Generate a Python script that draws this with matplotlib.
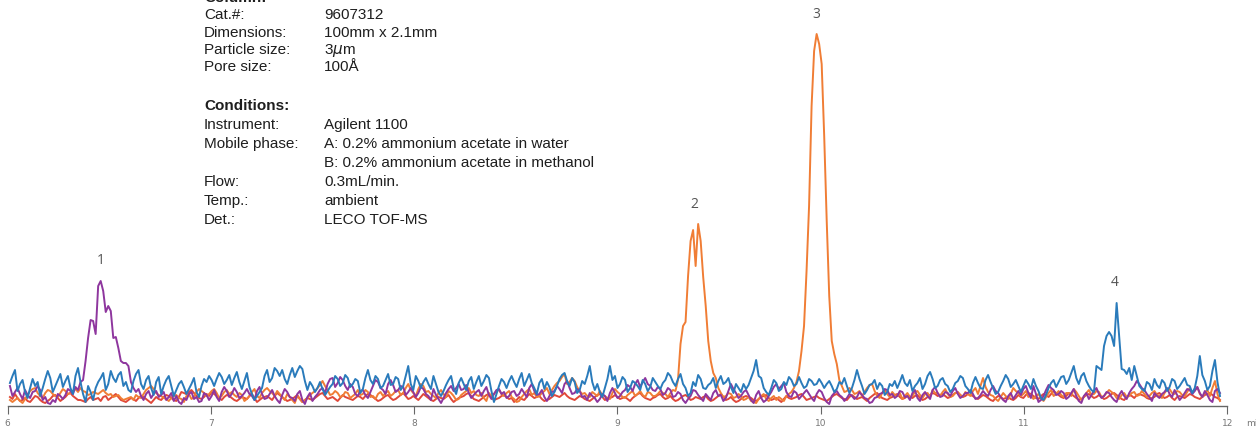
import numpy as np
import matplotlib
matplotlib.use("Agg")
import matplotlib.pyplot as plt

# detector traces, one sample every 0.0124 min from 6.012 min
t_start = 6.012
t_step = 0.0124

purple = [20, 10, 14, 18, 12, 7, 16, 11, 8, 14, 15, 20, 16, 6, 9, 3, 2, 6, 4, 12,
          10, 7, 11, 17, 15, 12, 19, 16, 24, 26, 45, 68, 86, 85, 72, 120, 125, 115, 94, 100,
          95, 68, 69, 58, 45, 43, 43, 40, 24, 18, 14, 17, 10, 6, 12, 15, 8, 12, 15, 9,
          11, 14, 6, 9, 13, 5, 10, 4, 2, 8, 6, 12, 14, 7, 9, 4, 5, 13, 11, 6,
          10, 16, 9, 5, 14, 19, 15, 9, 12, 18, 14, 8, 10, 13, 17, 12, 10, 6, 15, 19,
          12, 7, 8, 12, 16, 10, 6, 3, 11, 17, 14, 9, 8, 5, 12, 15, 6, 2, 9, 13,
          5, 9, 12, 16, 18, 13, 22, 27, 28, 19, 23, 29, 26, 20, 16, 22, 19, 12, 10, 15,
          16, 11, 8, 14, 20, 26, 24, 18, 16, 12, 22, 26, 21, 14, 16, 20, 19, 11, 14, 18,
          14, 9, 13, 19, 17, 12, 10, 6, 17, 11, 7, 3, 8, 13, 17, 20, 15, 18, 22, 16,
          17, 21, 13, 8, 11, 14, 16, 10, 15, 19, 11, 7, 12, 16, 17, 12, 14, 8, 10, 14,
          15, 10, 12, 17, 13, 9, 18, 22, 15, 11, 12, 16, 9, 5, 10, 14, 15, 20, 17, 13,
          22, 25, 18, 12, 13, 17, 15, 9, 10, 6, 13, 10, 8, 4, 7, 12, 10, 5, 13, 18,
          13, 8, 10, 14, 16, 21, 19, 15, 22, 26, 19, 24, 28, 22, 20, 16, 15, 19, 17, 11,
          13, 18, 16, 9, 10, 14, 12, 6, 3, 7, 10, 16, 15, 11, 8, 5, 12, 9, 6, 13,
          16, 10, 11, 5, 8, 15, 22, 17, 13, 8, 10, 14, 16, 11, 6, 3, 11, 15, 8, 4,
          6, 10, 14, 19, 22, 17, 20, 23, 14, 10, 9, 15, 13, 7, 10, 13, 16, 12, 8, 5,
          12, 16, 14, 8, 4, 2, 10, 13, 15, 11, 9, 5, 8, 12, 10, 7, 9, 14, 11, 8,
          7, 3, 4, 8, 9, 12, 13, 17, 16, 11, 12, 8, 10, 15, 14, 9, 10, 6, 13, 16,
          8, 5, 11, 14, 10, 7, 16, 19, 13, 9, 10, 14, 13, 10, 15, 18, 12, 8, 10, 13,
          13, 16, 12, 7, 8, 11, 15, 12, 10, 16, 20, 15, 13, 9, 6, 4, 10, 13, 7, 11,
          15, 11, 17, 20, 13, 8, 20, 12, 4, 6, 10, 16, 21, 18, 16, 11, 12, 15, 13, 7,
          9, 13, 17, 10, 5, 3, 10, 13, 7, 11, 15, 18, 12, 8, 10, 14, 13, 9, 6, 4,
          11, 15, 10, 7, 13, 17, 20, 25, 22, 18, 16, 12, 9, 5, 13, 10, 8, 12, 14, 18,
          12, 9, 16, 11, 6, 9, 13, 17, 16, 12, 15, 19, 13, 9, 15, 11, 6, 4, 15, 17,
          13]

orange = [6, 4, 6, 8, 5, 3, 7, 11, 15, 17, 18, 13, 10, 8, 13, 16, 15, 12, 10, 9,
          13, 17, 15, 12, 13, 15, 17, 14, 18, 15, 14, 11, 12, 14, 13, 12, 14, 16, 13, 11,
          12, 9, 10, 11, 8, 6, 7, 8, 9, 6, 11, 9, 8, 12, 16, 18, 20, 17, 13, 11,
          10, 8, 7, 5, 8, 10, 11, 8, 7, 4, 10, 12, 7, 9, 14, 17, 15, 13, 10, 12,
          15, 17, 13, 8, 10, 14, 16, 12, 14, 11, 9, 13, 11, 5, 7, 10, 14, 17, 10, 8,
          13, 16, 18, 15, 13, 10, 15, 12, 9, 6, 12, 9, 6, 3, 10, 7, 4, 6, 8, 11,
          13, 15, 18, 21, 25, 20, 16, 11, 12, 15, 13, 9, 10, 14, 13, 8, 10, 12, 16, 11,
          12, 16, 14, 9, 10, 7, 12, 14, 10, 13, 15, 10, 12, 15, 16, 11, 13, 18, 22, 16,
          13, 10, 17, 22, 20, 14, 15, 12, 10, 8, 13, 16, 12, 9, 15, 13, 10, 6, 7, 11,
          13, 15, 18, 13, 15, 11, 10, 13, 8, 5, 13, 10, 12, 15, 16, 12, 10, 13, 15, 9,
          7, 4, 5, 9, 12, 15, 17, 11, 13, 9, 10, 13, 15, 18, 12, 16, 20, 23, 25, 29,
          32, 22, 24, 28, 25, 19, 15, 12, 13, 10, 9, 14, 12, 10, 15, 11, 10, 8, 7, 13,
          17, 14, 12, 9, 8, 11, 13, 15, 10, 12, 15, 11, 9, 14, 13, 10, 10, 12, 15, 13,
          12, 9, 13, 16, 15, 26, 62, 80, 84, 130, 165, 176, 140, 182, 165, 129, 100, 65, 45, 33,
          28, 18, 13, 9, 10, 13, 12, 8, 9, 12, 10, 6, 7, 9, 5, 4, 3, 7, 10, 12,
          7, 5, 8, 10, 6, 9, 7, 5, 10, 12, 14, 18, 24, 35, 55, 80, 135, 200, 300, 355,
          372, 362, 342, 270, 185, 110, 65, 52, 42, 26, 20, 14, 15, 18, 16, 12, 13, 15, 10, 14,
          18, 21, 22, 15, 10, 8, 13, 16, 12, 9, 14, 11, 10, 13, 7, 10, 13, 9, 10, 14,
          15, 11, 8, 12, 13, 9, 16, 13, 13, 10, 14, 17, 12, 9, 10, 13, 13, 11, 9, 14,
          12, 10, 15, 18, 12, 20, 28, 19, 14, 11, 10, 7, 5, 9, 13, 10, 7, 12, 18, 15,
          13, 10, 12, 15, 9, 11, 7, 10, 12, 8, 5, 9, 13, 16, 10, 12, 15, 11, 9, 13,
          13, 10, 17, 14, 10, 6, 9, 13, 16, 11, 12, 15, 14, 9, 10, 13, 16, 14, 12, 8,
          7, 11, 13, 9, 10, 13, 14, 10, 11, 15, 12, 9, 10, 13, 15, 11, 10, 8, 13, 16,
          17, 13, 12, 15, 14, 11, 10, 14, 18, 13, 16, 19, 12, 9, 13, 16, 10, 18, 25, 12,
          5]

blue = [23, 30, 36, 15, 22, 26, 14, 8, 18, 27, 20, 24, 10, 18, 27, 35, 28, 14, 20, 26,
        32, 19, 25, 30, 18, 12, 30, 38, 24, 12, 4, 20, 14, 6, 18, 24, 28, 33, 16, 22,
        35, 28, 24, 31, 34, 20, 24, 16, 14, 25, 32, 36, 22, 17, 26, 30, 18, 11, 24, 29,
        12, 20, 26, 30, 20, 10, 16, 22, 25, 19, 12, 17, 22, 28, 14, 9, 20, 27, 24, 30,
        26, 20, 27, 33, 29, 22, 26, 31, 21, 28, 34, 24, 17, 25, 33, 19, 12, 6, 10, 14,
        18, 30, 36, 24, 28, 38, 35, 30, 36, 27, 22, 31, 38, 29, 35, 40, 37, 25, 16, 24,
        20, 14, 18, 24, 17, 11, 15, 19, 22, 30, 27, 20, 23, 31, 28, 19, 22, 27, 25, 13,
        17, 28, 36, 26, 22, 30, 27, 18, 20, 26, 32, 21, 22, 29, 27, 16, 20, 30, 40, 22,
        16, 30, 25, 18, 24, 28, 22, 17, 30, 22, 14, 10, 15, 21, 26, 30, 18, 12, 23, 28,
        22, 16, 25, 29, 17, 24, 30, 20, 25, 31, 28, 15, 4, 12, 20, 27, 24, 18, 25, 30,
        24, 19, 27, 33, 20, 26, 32, 23, 18, 12, 23, 27, 17, 24, 19, 10, 14, 20, 27, 31,
        33, 25, 20, 28, 24, 13, 16, 25, 22, 30, 40, 24, 16, 22, 14, 9, 18, 27, 40, 26,
        30, 18, 22, 29, 26, 14, 18, 25, 23, 20, 16, 26, 22, 15, 19, 28, 24, 20, 17, 23,
        26, 33, 30, 24, 20, 27, 32, 22, 18, 10, 13, 24, 20, 31, 27, 18, 17, 21, 23, 28,
        18, 25, 30, 22, 24, 28, 19, 13, 22, 18, 14, 22, 17, 21, 28, 35, 46, 30, 28, 18,
        14, 11, 18, 26, 23, 15, 17, 24, 21, 29, 26, 20, 22, 29, 23, 18, 20, 27, 25, 21,
        22, 27, 23, 18, 22, 25, 20, 14, 17, 24, 22, 28, 20, 13, 18, 26, 36, 27, 20, 12,
        16, 21, 22, 26, 17, 23, 20, 11, 14, 22, 20, 25, 18, 24, 31, 23, 20, 26, 15, 20,
        23, 28, 17, 22, 30, 34, 27, 18, 20, 26, 28, 22, 20, 14, 17, 23, 25, 30, 28, 20,
        17, 13, 23, 29, 23, 18, 17, 26, 31, 24, 18, 12, 14, 20, 25, 31, 27, 19, 22, 26,
        20, 14, 20, 26, 22, 17, 27, 20, 15, 8, 6, 11, 18, 23, 26, 19, 24, 29, 30, 22,
        26, 33, 40, 28, 22, 30, 33, 25, 20, 16, 14, 40, 38, 36, 60, 70, 74, 70, 60, 103,
        70, 37, 36, 32, 38, 26, 40, 30, 20, 17, 15, 24, 22, 16, 27, 21, 18, 26, 23, 15,
        19, 27, 25, 17, 20, 24, 28, 21, 20, 13, 18, 30, 50, 31, 25, 16, 20, 35, 46, 24,
        10]

red = [9, 7, 12, 8, 5, 6, 8, 5, 4, 7, 10, 9, 6, 4, 3, 5, 7, 10, 11, 8,
       5, 7, 9, 12, 13, 10, 8, 6, 6, 5, 4, 7, 9, 6, 7, 8, 5, 9, 10, 6,
       8, 10, 12, 9, 6, 5, 4, 6, 8, 7, 5, 8, 10, 9, 7, 5, 3, 6, 9, 7,
       6, 9, 11, 10, 8, 6, 5, 9, 14, 13, 12, 14, 16, 13, 10, 8, 7, 9, 12, 10,
       14, 12, 10, 8, 6, 9, 11, 10, 8, 6, 5, 7, 9, 8, 7, 10, 12, 8, 4, 6,
       8, 9, 10, 8, 6, 10, 13, 11, 9, 7, 5, 6, 7, 9, 11, 7, 4, 6, 8, 7,
       6, 8, 10, 12, 13, 10, 7, 8, 9, 7, 5, 8, 11, 9, 8, 7, 6, 8, 10, 9,
       7, 10, 12, 11, 9, 7, 5, 6, 8, 10, 11, 8, 6, 7, 9, 11, 13, 10, 7, 8,
       10, 8, 6, 9, 12, 10, 8, 6, 5, 7, 9, 8, 7, 9, 11, 7, 4, 6, 8, 9,
       10, 12, 13, 10, 7, 6, 5, 7, 9, 11, 12, 9, 6, 7, 8, 10, 11, 9, 7, 8,
       4, 6, 9, 7, 6, 9, 12, 10, 8, 9, 10, 7, 5, 6, 7, 9, 11, 10, 9, 11,
       13, 10, 8, 7, 6, 8, 10, 9, 7, 6, 5, 7, 9, 11, 12, 9, 6, 7, 8, 9,
       11, 9, 7, 8, 9, 7, 5, 8, 10, 12, 13, 10, 8, 7, 6, 8, 9, 11, 12, 9,
       7, 8, 10, 7, 5, 6, 8, 10, 11, 9, 6, 7, 9, 8, 7, 9, 10, 7, 5, 6,
       8, 10, 12, 9, 6, 7, 9, 6, 4, 5, 7, 9, 10, 9, 8, 6, 5, 7, 9, 10,
       11, 8, 6, 7, 8, 6, 4, 7, 10, 8, 7, 8, 9, 11, 12, 9, 6, 7, 8, 9,
       10, 8, 7, 6, 5, 7, 9, 11, 12, 10, 8, 7, 6, 9, 11, 9, 7, 8, 9, 7,
       5, 8, 10, 12, 13, 10, 8, 7, 6, 8, 9, 11, 12, 9, 7, 8, 10, 9, 8, 10,
       11, 8, 6, 7, 9, 11, 13, 12, 10, 11, 12, 10, 8, 9, 11, 13, 14, 11, 9, 10,
       12, 11, 10, 8, 7, 9, 11, 10, 8, 6, 5, 8, 10, 9, 7, 8, 9, 7, 6, 8,
       11, 9, 8, 11, 13, 12, 10, 8, 7, 10, 12, 11, 9, 12, 15, 13, 11, 9, 8, 10,
       13, 12, 10, 8, 6, 7, 9, 11, 12, 10, 8, 9, 11, 9, 7, 8, 10, 12, 13, 11,
       9, 7, 6, 9, 11, 10, 8, 11, 12, 11, 10, 8, 7, 8, 9, 12, 13, 10, 8, 9,
       11, 8, 6, 9, 10, 9, 8, 10, 12, 11, 9, 8, 7, 9, 11, 12, 13, 11, 9, 8,
       6]

# peak numbers, approximate retention time and the trace they belong to
peak_labels = ["1", "2", "3", "4"]
peak_times = [6.46, 9.377, 9.977, 11.447]
peak_traces = ["purple", "orange", "orange", "blue"]

x_ticks = [6, 7, 8, 9, 10, 11, 12]

column_rows = [("Cat.#:", "9607312"),
               ("Dimensions:", "100mm x 2.1mm"),
               ("Particle size:", r"3$\mu$m"),
               ("Pore size:", "100Å")]
condition_rows = [("Instrument:", "Agilent 1100"),
                  ("Mobile phase:", "A: 0.2% ammonium acetate in water"),
                  ("", "B: 0.2% ammonium acetate in methanol"),
                  ("Flow:", "0.3mL/min."),
                  ("Temp.:", "ambient"),
                  ("Det.:", "LECO TOF-MS")]

traces = {"red": red, "orange": orange, "purple": purple, "blue": blue}
colors = {"red": "#e0483a", "orange": "#f07d35", "purple": "#8e369e", "blue": "#2a7bbb"}

W, H = 1256, 428
fig = plt.figure(figsize=(W / 100, H / 100), dpi=100)
ax = fig.add_axes([7.5 / W, 22 / H, 1219.8 / W, 406 / H])

for name, values in traces.items():
    t = t_start + t_step * np.arange(len(values))
    ax.plot(t, values, color=colors[name], lw=1.4, clip_on=False)

for label, rt, name in zip(peak_labels, peak_times, peak_traces):
    values = np.array(traces[name])
    t = t_start + t_step * np.arange(len(values))
    top = values[np.abs(t - rt) < 0.06].max()
    ax.annotate(label, (rt, top), xytext=(0, 20), textcoords="offset pixels",
                ha="center", va="center", fontsize=10, color="#555555",
                family=["Open Sans", "DejaVu Sans"])

ax.set_xlim(6, 12)
ax.set_ylim(0, 406)
for side in ["left", "right", "top"]:
    ax.spines[side].set_visible(False)
ax.spines["bottom"].set_color("#666666")
ax.spines["bottom"].set_linewidth(1.0)
ax.set_yticks([])
ax.set_xticks(x_ticks)
ax.set_xticklabels([str(v) for v in x_ticks])
ax.tick_params(axis="x", direction="out", length=6, width=0.8, color="#666666",
               labelsize=6.5, labelcolor="#777777", pad=3)
fig.text(1246 / W, 4 / H, "min", fontsize=6.5, color="#777777", ha="left", va="center")

text_family = ["Liberation Sans", "DejaVu Sans"]


def put(x, y, s, bold=False):
    fig.text(x / W, 1 - y / H, s, fontsize=11, color="#1e1e1e", ha="left",
             va="baseline", family=text_family, weight="bold" if bold else "normal")


put(204, 2, "Column:", bold=True)
for (key, val), y in zip(column_rows, [19, 37, 54, 71]):
    put(204, y, key)
    put(324, y, val)
put(204, 110, "Conditions:", bold=True)
for (key, val), y in zip(condition_rows, [129, 148, 167, 186, 205, 224]):
    put(204, y, key)
    put(324, y, val)

fig.savefig("out.png", dpi=100)
